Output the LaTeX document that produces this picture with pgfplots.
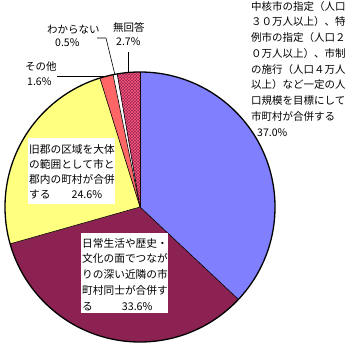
\documentclass[border=0pt]{standalone}
\usepackage{pgfplots}
\pgfplotsset{compat=1.18}
\usepackage{pgfplotstable}
\usepackage{fontspec}
\setmainfont{Noto Sans CJK JP}
\usetikzlibrary{patterns}
\definecolor{pblue}{RGB}{128,128,255}
\definecolor{pmaroon}{RGB}{139,34,82}
\definecolor{pyellow}{RGB}{255,255,128}
\definecolor{pred}{RGB}{255,102,102}
\definecolor{pwhite}{RGB}{255,255,255}
\definecolor{pmag}{RGB}{150,36,88}
\definecolor{ppat}{RGB}{255,90,120}

\pgfplotstableread{
label value color
A 37.0 pblue
B 33.6 pmaroon
C 24.6 pyellow
D 1.6 pred
E 0.5 pwhite
F 2.7 pmag
}\piedata
\pgfplotstablecreatecol[create col/expr accum={\pgfmathaccuma + \thisrow{value}}{0}]{cum}{\piedata}

\begin{document}
\begin{tikzpicture}
\begin{axis}[scale only axis, width=348pt, height=346pt,
  xmin=0, xmax=348, ymin=0, ymax=346, hide axis, clip=false]
\pgfplotsextra{
  \pgfplotstablegetrowsof{\piedata}
  \pgfmathtruncatemacro{\N}{\pgfplotsretval-1}
  \foreach \i in {0,...,\N}{
    \pgfplotstablegetelem{\i}{value}\of\piedata \let\v\pgfplotsretval
    \pgfplotstablegetelem{\i}{cum}\of\piedata \let\c\pgfplotsretval
    \pgfplotstablegetelem{\i}{color}\of\piedata \let\col\pgfplotsretval
    \pgfmathsetmacro{\sa}{90-3.6*(\c-\v)}
    \pgfmathsetmacro{\ea}{90-3.6*\c}
    \fill[fill=\col] (axis cs:140,139) -- ++(\sa:135pt) arc[start angle=\sa, end angle=\ea, radius=135pt] -- cycle;
    \ifnum\i=5
      \fill[pattern=crosshatch, pattern color=ppat] (axis cs:140,139) -- ++(\sa:135pt) arc[start angle=\sa, end angle=\ea, radius=135pt] -- cycle;
    \fi
    \draw[black, line width=0.6pt] (axis cs:140,139) -- ++(\sa:135pt);
  }
  \draw[black, line width=1.3pt] (axis cs:140,139) circle[radius=135pt];
  % leader lines
  \draw[black, line width=0.6pt] (axis cs:97,308) -- (axis cs:106,308) -- (axis cs:115,271);
  \draw[black, line width=0.6pt] (axis cs:128,294) -- (axis cs:128,273);
  \draw[black, line width=0.6pt] (axis cs:57,270) -- (axis cs:104,270);
  % white label boxes
  \fill[white] (axis cs:28,208) rectangle (axis cs:115,142);
  \fill[white] (axis cs:81,113) rectangle (axis cs:168,33);
}
\node[anchor=north west, inner sep=0pt, align=left, font=\fontsize{10.5}{15.75}\selectfont]
  at (axis cs:251,345) {中核市の指定（人口\\３０万人以上）、特\\例市の指定（人口２\\０万人以上）、市制\\の施行（人口４万人\\以上）など一定の人\\口規模を目標にして\\市町村が合併する\\\hspace{6pt}37.0\%};
\node[anchor=west, inner sep=0pt, font=\fontsize{10.5}{12}\selectfont] at (axis cs:47,316) {わからない};
\node[anchor=west, inner sep=0pt, font=\fontsize{10.5}{12}\selectfont] at (axis cs:55,303) {0.5\%};
\node[anchor=west, inner sep=0pt, font=\fontsize{10.5}{12}\selectfont] at (axis cs:113,319) {無回答};
\node[anchor=west, inner sep=0pt, font=\fontsize{10.5}{12}\selectfont] at (axis cs:116,304) {2.7\%};
\node[anchor=west, inner sep=0pt, font=\fontsize{10.5}{12}\selectfont] at (axis cs:25,279) {その他};
\node[anchor=west, inner sep=0pt, font=\fontsize{10.5}{12}\selectfont] at (axis cs:27,264) {1.6\%};
\node[anchor=north west, inner sep=0pt, align=left, font=\fontsize{10.7}{15}\selectfont]
  at (axis cs:29,202) {旧郡の区域を大体\\の範囲として市と\\郡内の町村が合併\\する\hspace{21pt}24.6\%};
\node[anchor=north west, inner sep=0pt, align=left, font=\fontsize{10.7}{15.75}\selectfont]
  at (axis cs:82,108) {日常生活や歴史・\\文化の面でつなが\\りの深い近隣の市\\町村同士が合併す\\る\hspace{29pt}33.6\%};
\end{axis}
\pgfresetboundingbox
\path (current axis.south west) rectangle (current axis.north east);
\end{tikzpicture}
\end{document}
